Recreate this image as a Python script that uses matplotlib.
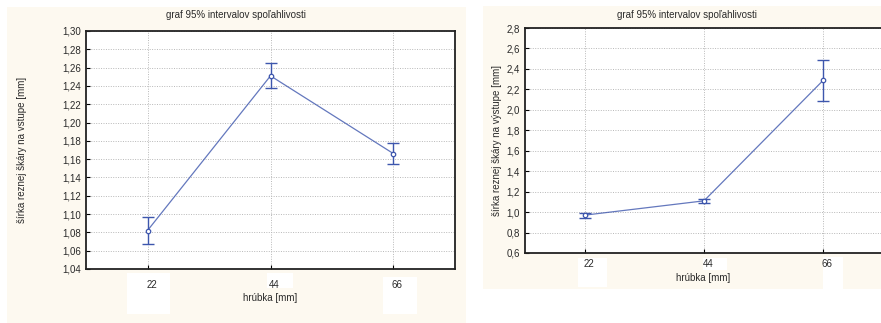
import matplotlib
matplotlib.use('Agg')
import matplotlib.pyplot as plt
from matplotlib.patches import Rectangle
from matplotlib.ticker import FuncFormatter
from matplotlib.transforms import ScaledTranslation

# data
hrubka = ['22', '44', '66']

sirka_vstup = [1.082, 1.251, 1.166]
vstup_low = [1.067, 1.238, 1.155]
vstup_high = [1.097, 1.265, 1.178]

sirka_vystup = [0.97, 1.11, 2.29]
vystup_low = [0.94, 1.09, 2.09]
vystup_high = [0.99, 1.13, 2.49]

plt.rcParams['font.family'] = ['Liberation Sans', 'DejaVu Sans']
W, H = 881, 323
CREAM = '#fdf9f0'
BLUE = '#3d56ad'
TXT = '#2a2a2a'

fig = plt.figure(figsize=(W / 100, H / 100), dpi=100)
fig.patch.set_facecolor('white')


def px(x0, y0, x1, y1):
    # pixel box (top-left origin) -> figure fraction rect
    return [x0 / W, 1 - y1 / H, (x1 - x0) / W, (y1 - y0) / H]


def box(x0, y0, x1, y1, color, z):
    r = px(x0, y0, x1, y1)
    fig.patches.append(Rectangle(r[:2], r[2], r[3], transform=fig.transFigure,
                                 facecolor=color, edgecolor='none', zorder=z))


def panel(rect, ylim, yticks, fmt, vals, lo, hi, ylabel, title_xy, ylab_xy, xlab_xy,
          cap, pad, show_right):
    ax = fig.add_axes(rect)
    ax.set_facecolor('white')
    x = list(range(len(hrubka)))
    err = [[v - l for v, l in zip(vals, lo)], [h - v for v, h in zip(vals, hi)]]
    ax.plot(x, vals, color=BLUE, lw=0.9, alpha=0.8, zorder=3)
    ax.errorbar(x, vals, yerr=err, fmt='none', ecolor=BLUE, elinewidth=1.0,
                capsize=cap, capthick=1.0, zorder=4)
    ax.plot(x, vals, 'o', ms=3.2, mfc='white', mec=BLUE, mew=0.9, zorder=5)
    ax.set_xlim(-0.5, 2.5)
    ax.set_ylim(*ylim)
    ax.set_yticks(yticks)
    ax.yaxis.set_major_formatter(FuncFormatter(lambda v, p: fmt.format(v).replace('.', ',')))
    ax.set_xticks(x)
    ax.set_xticklabels(hrubka)
    ax.grid(True, color='#b8b8b8', ls=(0, (1, 1.5)), lw=0.7)
    ax.tick_params(direction='in', length=3, width=0.8, labelsize=7, colors='black',
                   labelcolor=TXT)
    ax.tick_params(axis='x', pad=pad)
    shift = ScaledTranslation(4 / 100, 0, fig.dpi_scale_trans)
    for lab in ax.get_xticklabels():
        lab.set_transform(lab.get_transform() + shift)
    for s in ax.spines.values():
        s.set_linewidth(1.3)
        s.set_color('#222222')
    ax.spines['right'].set_visible(show_right)
    fig.text(title_xy[0] / W, 1 - title_xy[1] / H, 'graf 95% intervalov spoľahlivosti',
             ha='center', va='center', fontsize=7, color=TXT)
    fig.text(ylab_xy[0] / W, 1 - ylab_xy[1] / H, ylabel, rotation=90,
             ha='center', va='center', fontsize=7, color=TXT)
    fig.text(xlab_xy[0] / W, 1 - xlab_xy[1] / H, 'hrúbka [mm]',
             ha='center', va='center', fontsize=7, color=TXT)
    return ax


# cream screenshot backgrounds and the white patches under the x tick labels
box(7, 7, 466, 323, CREAM, -5)
box(483, 6, 881, 289, CREAM, -5)
for b in [(127, 273, 170, 314), (267, 273, 293, 288), (383, 277, 417, 314),
          (578, 258, 607, 287), (703, 258, 727, 270), (823, 257, 843, 289)]:
    box(*b, 'white', -4)

panel(px(86, 31, 455, 269),
      (1.04, 1.30), [1.04 + 0.02 * i for i in range(14)], '{:.2f}',
      sirka_vstup, vstup_low, vstup_high, 'šírka reznej škáry na vstupe [mm]',
      (236, 15), (22, 150), (270, 298), 4.5, 8, True)

panel(px(525, 28, 883, 253),
      (0.6, 2.8), [0.6 + 0.2 * i for i in range(12)], '{:.1f}',
      sirka_vystup, vystup_low, vystup_high, 'šírka reznej škáry na výstupe [mm]',
      (687, 15), (497, 140), (703, 278), 4, 4, False)

fig.savefig('out.png', dpi=100, facecolor='white')
